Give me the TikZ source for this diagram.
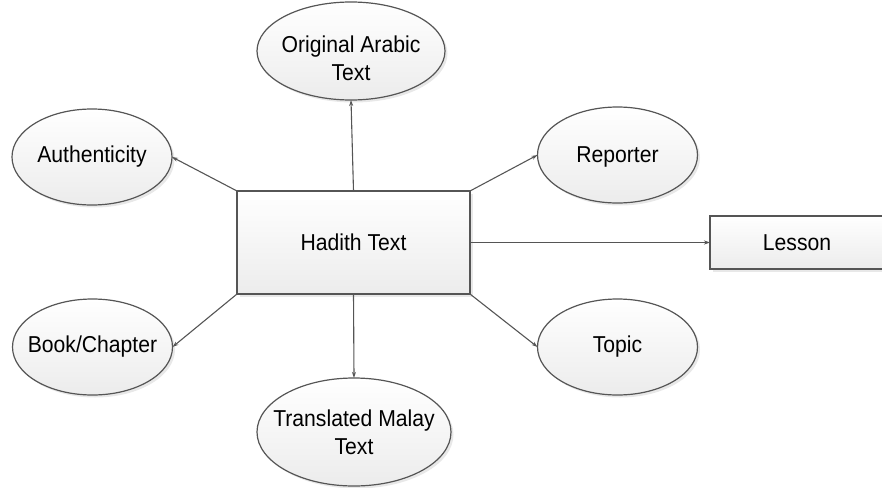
\documentclass[tikz,border=0pt]{standalone}
\usepackage{fontspec}
\setmainfont{Liberation Sans}[FakeStretch=0.92]
\usetikzlibrary{shapes.geometric,shadows,arrows.meta}
\definecolor{edge}{HTML}{555555}
\tikzset{
  every node/.style={outer sep=0pt, inner sep=0pt},
  txt/.style={font=\fontsize{23}{28}\selectfont, text=black, align=center},
  base/.style={draw=edge, line width=1.2pt, top color=white, bottom color=gray!15,
    drop shadow={opacity=0.18, shadow xshift=2.5pt, shadow yshift=-2.5pt}},
  oval/.style={base, ellipse, minimum width=160pt, minimum height=96pt},
  bigoval/.style={base, ellipse},
  box/.style={base, rectangle},
  arr/.style={draw=edge, line width=1.1pt, -{Stealth[length=6pt,width=4pt]}}
}
\begin{document}
\begin{tikzpicture}[x=1pt,y=-1pt]
\useasboundingbox (0,0) rectangle (882,487);
\node[box, minimum width=233pt, minimum height=103pt] (hadith) at (353.5,242.5) {};
\node[box, minimum width=174pt, minimum height=53pt] (lesson) at (797,242.5) {};
\node[bigoval, minimum width=188pt, minimum height=98pt] (arabic) at (351,51) {};
\node[bigoval, minimum width=194pt, minimum height=108pt] (malay) at (354,432) {};
\node[oval] (auth) at (92,157) {};
\node[oval] (rep) at (617.5,155) {};
\node[oval] (book) at (92.5,347) {};
\node[oval] (topic) at (617.5,347) {};
\node[txt] (hadithT) at (hadith) {Hadith Text};
\node[txt] (lessonT) at (797,242.5) {Lesson};
\node[txt] (arabicT) at (351,58) {Original Arabic\\Text};
\node[txt] (malayT) at (malay) {Translated Malay\\Text};
\node[txt] (authT) at (auth) {Authenticity};
\node[txt] (repT) at (617.5,157) {Reporter};
\node[txt] (bookT) at (book) {Book/Chapter};
\node[txt] (topicT) at (topic) {Topic};
\draw[arr] (hadith.north west) -- (auth.east);
\draw[arr] (hadith.north) -- (arabic.south);
\draw[arr] (hadith.north east) -- (rep.west);
\draw[arr] (hadith.east) -- (lesson.west);
\draw[arr] (hadith.south west) -- (book.east);
\draw[arr] (hadith.south) -- (malay.north);
\draw[arr] (hadith.south east) -- (topic.west);
\end{tikzpicture}
\end{document}
